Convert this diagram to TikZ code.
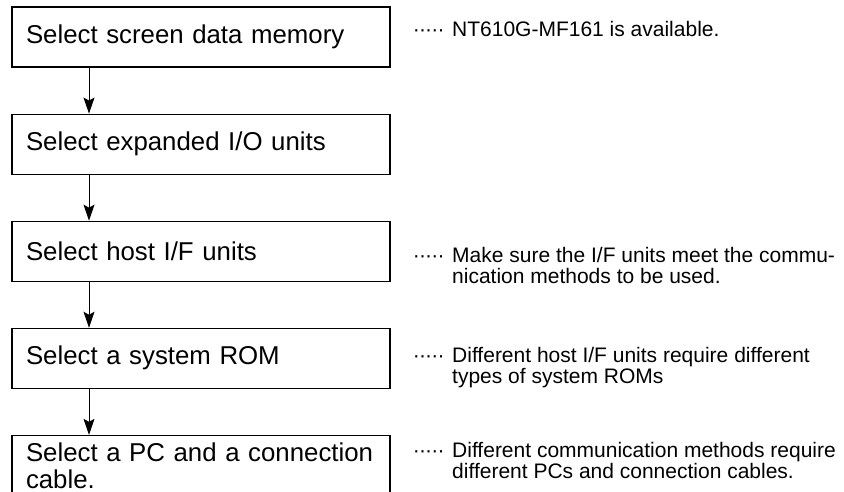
\documentclass[tikz,border=0pt]{standalone}
\usepackage{fontspec}
\setmainfont{Liberation Sans}
\usetikzlibrary{positioning,arrows.meta}
\newcommand{\noteleader}{\makebox[32pt][l]{\xleaders\hbox to 6.2pt{\hss·\hss}\hskip 31pt}}
\tikzset{
    stepbox/.style={draw,line width=1.1pt,minimum width=378pt,minimum height=60pt,
        text width=350pt,align=left,inner xsep=14pt,inner ysep=0pt,
        font=\fontsize{25.8}{27}\selectfont},
    flow/.style={->,>={Stealth[length=16pt,width=11pt,inset=3pt]},line width=0.9pt},
    note/.style={anchor=base west,inner sep=0pt,font=\fontsize{21}{21.5}\selectfont},
}

\begin{document}
\begin{tikzpicture}[x=1pt,y=-1pt,node distance=46pt]
    \useasboundingbox (0,0) rectangle (844,492);
    \node[stepbox] (mem) at (201,37) {Select screen data memory};
    \node[stepbox,below=of mem] (io) {Select expanded I/O units};
    \node[stepbox,below=of io] (host) {Select host I/F units};
    \node[stepbox,below=of host] (rom) {Select a system ROM};
    \node[stepbox,below=of rom] (pc) {Select a PC and a connection cable.};
    \coordinate (spine) at (89,0);

    \draw[flow] (mem.south -| spine) -- (io.north -| spine);
    \draw[flow] (io.south -| spine) -- (host.north -| spine);
    \draw[flow] (host.south -| spine) -- (rom.north -| spine);
    \draw[flow] (rom.south -| spine) -- (pc.north -| spine);

    % remarks to the right
    \node[note] (memnote) at (413,37) {\begin{tabular}[t]{@{}l@{\hspace{7pt}}l@{}}\noteleader & NT610G-MF161 is available.\end{tabular}};
    \node[note] (hostnote) at (413,262) {\begin{tabular}[t]{@{}l@{\hspace{7pt}}l@{}}\noteleader & Make sure the I/F units meet the commu-\\ & nication methods to be used.\end{tabular}};
    \node[note] (romnote) at (413,362) {\begin{tabular}[t]{@{}l@{\hspace{7pt}}l@{}}\noteleader & Different host I/F units require different\\ & types of system ROMs\end{tabular}};
    \node[note] (pcnote) at (413,457) {\begin{tabular}[t]{@{}l@{\hspace{7pt}}l@{}}\noteleader & Different communication methods require\\ & different PCs and connection cables.\end{tabular}};
\end{tikzpicture}
\end{document}
